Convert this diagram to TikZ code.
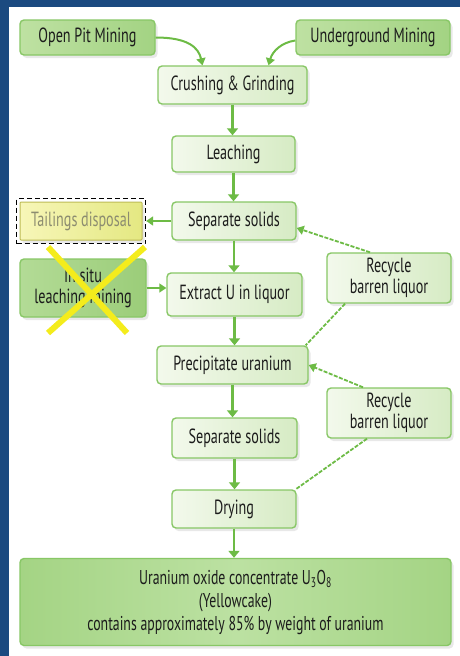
\documentclass[tikz,border=0pt]{standalone}
\usepackage{fontspec}
\setmainfont[FakeStretch=0.69]{PT Sans}
\usetikzlibrary{arrows.meta,fit,shadows}
\definecolor{frameblue}{HTML}{1B4A80}
\definecolor{flowgreen}{HTML}{6DBB45}
\definecolor{boxedge}{HTML}{88C766}
\definecolor{paleleft}{HTML}{F3F9EC}
\definecolor{paleright}{HTML}{D6EBC4}
\definecolor{deepleft}{HTML}{BEE1A2}
\definecolor{deepright}{HTML}{A3D383}
\definecolor{situleft}{HTML}{B3DB96}
\definecolor{situright}{HTML}{9BCD79}
\definecolor{cakeside}{HTML}{A4D484}
\definecolor{cakemid}{HTML}{BCE1A2}
\definecolor{tailleft}{HTML}{F7F6B8}
\definecolor{tailright}{HTML}{E4E882}
\definecolor{tailedge}{HTML}{BDBB55}
\definecolor{tailtext}{HTML}{8C8C70}
\definecolor{crossyellow}{HTML}{F4EC1C}
\definecolor{inktext}{HTML}{1C1C1C}
\tikzset{
  flow box/.style={draw=boxedge,line width=1.4pt,rounded corners=4pt,
    left color=paleleft,right color=paleright,text=inktext,align=center,
    inner sep=0pt,font=\fontsize{20.5}{21}\selectfont,
    drop shadow={opacity=0.18,shadow xshift=2.5pt,shadow yshift=-3pt}},
  source box/.style={flow box,left color=deepleft,right color=deepright},
  situ box/.style={flow box,left color=situleft,right color=situright},
  cake box/.style={flow box,left color=cakeside,right color=cakeside,middle color=cakemid,
    font=\fontsize{20}{23}\selectfont},
  tail box/.style={flow box,draw=tailedge,line width=1pt,rounded corners=1pt,
    left color=tailleft,right color=tailright,text=tailtext},
  tail frame/.style={draw=black,line width=1.3pt,dash pattern=on 5pt off 3pt,inner sep=3pt},
  flow arrow/.style={draw=flowgreen,line width=2.6pt,-{Triangle[length=7pt,width=11pt]}},
  side arrow/.style={draw=flowgreen,line width=1.6pt,-{Triangle[length=7pt,width=9pt]}},
  recycle line/.style={draw=flowgreen,line width=1.8pt,dash pattern=on 4pt off 1.5pt},
  cross/.style={draw=crossyellow,line width=6pt}
}

\begin{document}
\begin{tikzpicture}[x=1pt,y=-1pt,line join=round]
  \useasboundingbox (0,0) rectangle (460,656);
  \fill[frameblue] (0,0) rectangle (460,656);
  \fill[white] (9,7) rectangle (460,656);

  % mining sources
  \node[source box,minimum width=135pt,minimum height=35pt] (openpit) at (87.5,37.5) {Open Pit Mining};
  \node[source box,minimum width=154pt,minimum height=35pt] (underground) at (373,37.5) {Underground Mining};

  % main chain
  \node[flow box,minimum width=149pt,minimum height=38pt] (crush) at (232.5,85) {Crushing \& Grinding};
  \node[flow box,minimum width=123pt,minimum height=36pt] (leach) at (233.5,154) {Leaching};
  \node[flow box,minimum width=124pt,minimum height=38pt] (solidsA) at (234,221) {Separate solids};
  \node[flow box,minimum width=135pt,minimum height=43pt] (extract) at (234.5,294.5) {Extract U in liquor};
  \node[flow box,minimum width=151pt,minimum height=38pt] (precip) at (232.5,365) {Precipitate uranium};
  \node[flow box,minimum width=125pt,minimum height=40pt] (solidsB) at (234.5,438) {Separate solids};
  \node[flow box,minimum width=124pt,minimum height=38pt] (drying) at (234,509) {Drying};
  \node[cake box,minimum width=431pt,minimum height=87pt] (yellowcake) at (235.5,602)
    {Uranium oxide concentrate U\textsubscript{3}O\textsubscript{8}\\(Yellowcake)\\contains approximately 85\% by weight of uranium};

  % side boxes
  \node[tail box,minimum width=122pt,minimum height=38pt] (tailings) at (81,221) {Tailings disposal};
  \node[tail frame,fit=(tailings)] (tailframe) {};
  \node[situ box,minimum width=126pt,minimum height=58pt] (insitu) at (83,288) {In situ\\leaching mining};
  \node[flow box,minimum width=124pt,minimum height=50pt] (recycleA) at (389,278) {Recycle\\barren liquor};
  \node[flow box,minimum width=124pt,minimum height=50pt] (recycleB) at (389,413) {Recycle\\barren liquor};

  % connectors
  \draw[side arrow,line width=2pt] (openpit.east) .. controls +(32,0) and +(-4,-18) .. ([xshift=-30pt]crush.north);
  \draw[side arrow,line width=2pt] ([yshift=-3pt]underground.west) .. controls +(-14,2) and +(4,-14) .. ([xshift=36pt]crush.north);
  \foreach \a/\b in {crush/leach,leach/solidsA,solidsA/extract,extract/precip,precip/solidsB,solidsB/drying,drying/yellowcake}
    {\draw[flow arrow] (\a.south) -- (\a.south |- \b.north);}
  \draw[side arrow] (solidsA.west) -- (tailframe.east);
  \draw[side arrow] (insitu.east) -- (insitu.east -| extract.west);
  \draw[recycle line,-{Triangle[length=7pt,width=9pt]}] ([xshift=-19pt]recycleA.north) -- ([yshift=-7pt]solidsA.east);
  \draw[recycle line] ([xshift=-44pt]recycleA.south) -- ([xshift=-3pt]precip.north east);
  \draw[recycle line,-{Triangle[length=7pt,width=9pt]}] ([xshift=-26pt]recycleB.north) -- (precip.east);
  \draw[recycle line] ([xshift=-22pt]recycleB.south) -- ([xshift=-1pt]drying.north east);

  % crossed out
  \draw[cross] (48,247) -- (127,333) (145,247) -- (48,333);
\end{tikzpicture}
\end{document}
